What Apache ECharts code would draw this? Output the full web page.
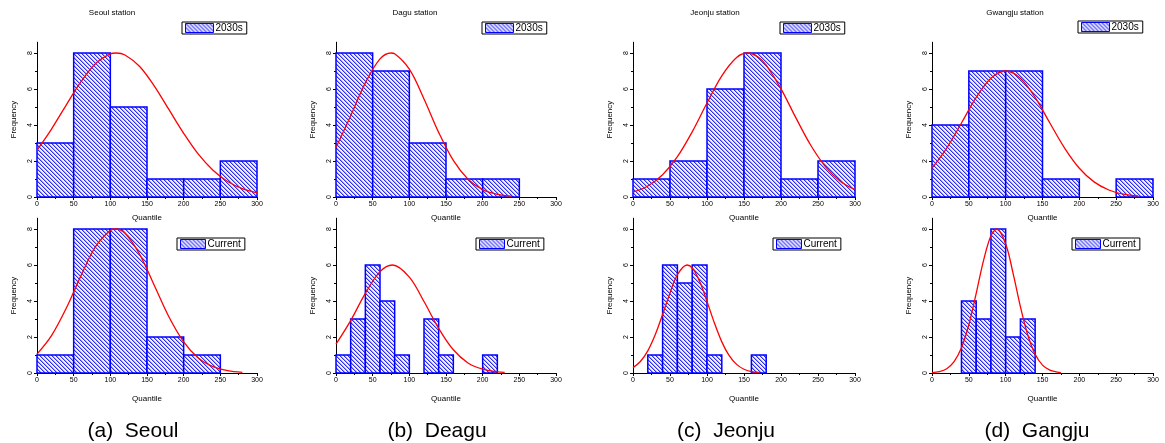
<!DOCTYPE html>
<html><head><meta charset="utf-8">
<script src="https://cdn.jsdelivr.net/npm/echarts@6/dist/echarts.min.js"></script>
<style>html,body{margin:0;padding:0;background:#fff}#c{width:1165px;height:443px}</style>
</head><body><div id="c"></div>
<script>
// ---------------- data ----------------
const stationTitles = ['Seoul station', 'Dagu station', 'Jeonju station', 'Gwangju station'];
const captions = ['(a)  Seoul', '(b)  Deagu', '(c)  Jeonju', '(d)  Gangju'];
const seriesNames = ['2030s', 'Current'];
const xTicks = [0, 50, 100, 150, 200, 250, 300];
const yTicks = [0, 2, 4, 6, 8];

const seoul2030Edges = [0, 50, 100, 150, 200, 250, 300];
const seoul2030Counts = [3, 8, 5, 1, 1, 2];
const seoulNowEdges = [0, 50, 100, 150, 200, 250];
const seoulNowCounts = [1, 8, 8, 2, 1];
const daegu2030Edges = [0, 50, 100, 150, 200, 250];
const daegu2030Counts = [8, 7, 3, 1, 1];
const daeguNowEdges = [0, 20, 40, 60, 80, 100, 120, 140, 160, 180, 200, 220];
const daeguNowCounts = [1, 3, 6, 4, 1, 0, 3, 1, 0, 0, 1];
const jeonju2030Edges = [0, 50, 100, 150, 200, 250, 300];
const jeonju2030Counts = [1, 2, 6, 8, 1, 2];
const jeonjuNowEdges = [20, 40, 60, 80, 100, 120, 140, 160, 180];
const jeonjuNowCounts = [1, 6, 5, 6, 1, 0, 0, 1];
const gwangju2030Edges = [0, 50, 100, 150, 200, 250, 300];
const gwangju2030Counts = [4, 7, 7, 1, 0, 1];
const gwangjuNowEdges = [40, 60, 80, 100, 120, 140];
const gwangjuNowCounts = [4, 3, 8, 2, 3];

// fitted normal curves
const seoul2030FitX = [0, 20, 40, 60, 80, 100, 108, 120, 140, 160, 180, 200, 220, 240, 260, 280, 300];
const seoul2030FitY = [2.60, 3.79, 5.12, 6.41, 7.42, 7.95, 8.00, 7.89, 7.25, 6.16, 4.85, 3.54, 2.38, 1.49, 0.86, 0.46, 0.23];
const seoulNowFitX = [0, 20, 40, 60, 80, 100, 107, 120, 140, 160, 180, 200, 220, 240, 260, 280];
const seoulNowFitY = [1.05, 2.09, 3.61, 5.41, 7.03, 7.93, 8.00, 7.76, 6.59, 4.86, 3.11, 1.73, 0.83, 0.35, 0.13, 0.04];
const daegu2030FitX = [0, 20, 40, 60, 75, 80, 100, 120, 140, 160, 180, 200, 220, 240];
const daegu2030FitY = [2.75, 4.51, 6.34, 7.67, 8.00, 7.96, 7.10, 5.45, 3.59, 2.03, 0.99, 0.41, 0.15, 0.05];
const daeguNowFitX = [0, 20, 40, 60, 77, 100, 120, 140, 160, 180, 200, 220, 230];
const daeguNowFitY = [1.60, 2.91, 4.42, 5.63, 6.00, 5.33, 3.97, 2.48, 1.29, 0.56, 0.21, 0.06, 0.03];
const jeonju2030FitX = [0, 20, 40, 60, 80, 100, 120, 140, 155, 170, 180, 200, 220, 240, 260, 280, 300];
const jeonju2030FitY = [0.27, 0.61, 1.24, 2.24, 3.62, 5.22, 6.73, 7.75, 8.00, 7.75, 7.32, 6.01, 4.41, 2.89, 1.69, 0.88, 0.41];
const jeonjuNowFitX = [0, 10, 20, 30, 40, 50, 60, 73, 80, 90, 100, 110, 120, 130, 140, 150, 160, 170];
const jeonjuNowFitY = [0.30, 0.64, 1.23, 2.12, 3.25, 4.45, 5.46, 6.00, 5.84, 5.10, 3.98, 2.78, 1.73, 0.96, 0.48, 0.21, 0.08, 0.03];
const gwangju2030FitX = [0, 20, 40, 60, 80, 100, 120, 140, 160, 180, 200, 220, 240, 260, 280];
const gwangju2030FitY = [1.60, 2.72, 4.11, 5.53, 6.60, 7.00, 6.60, 5.53, 4.11, 2.72, 1.60, 0.84, 0.39, 0.16, 0.06];
const gwangjuNowFitX = [0, 10, 20, 30, 40, 50, 60, 70, 80, 88, 100, 110, 120, 130, 140, 150, 160, 170, 175];
const gwangjuNowFitY = [0.02, 0.08, 0.24, 0.63, 1.40, 2.68, 4.42, 6.26, 7.62, 8.00, 7.17, 5.55, 3.69, 2.11, 1.04, 0.44, 0.16, 0.05, 0.02];

// panels: top row (2030s) then bottom row (Current)
const panels = [
  { edges: seoul2030Edges, counts: seoul2030Counts, fx: seoul2030FitX, fy: seoul2030FitY },
  { edges: daegu2030Edges, counts: daegu2030Counts, fx: daegu2030FitX, fy: daegu2030FitY },
  { edges: jeonju2030Edges, counts: jeonju2030Counts, fx: jeonju2030FitX, fy: jeonju2030FitY },
  { edges: gwangju2030Edges, counts: gwangju2030Counts, fx: gwangju2030FitX, fy: gwangju2030FitY },
  { edges: seoulNowEdges, counts: seoulNowCounts, fx: seoulNowFitX, fy: seoulNowFitY },
  { edges: daeguNowEdges, counts: daeguNowCounts, fx: daeguNowFitX, fy: daeguNowFitY },
  { edges: jeonjuNowEdges, counts: jeonjuNowCounts, fx: jeonjuNowFitX, fy: jeonjuNowFitY },
  { edges: gwangjuNowEdges, counts: gwangjuNowCounts, fx: gwangjuNowFitX, fy: gwangjuNowFitY }
];

// ---------------- layout / style ----------------
const FONT = '"Liberation Sans", Arial, sans-serif';
const plotLeft = [37, 336, 633, 932];
const plotWidth = [220, 220, 222, 221];
const rowZeroY = [197, 373];
const unitPx = 18, yMax = 8.6;
const legendPos = [[182, 22], [482, 22], [780, 22], [1078, 21], [177, 238], [476, 238], [773, 238], [1072, 238]];
const legendIconW = [28, 28, 28, 28, 25, 25, 25, 25];
const titleX = [112, 415, 715, 1015];
const captionX = [133, 437, 726, 1037];

// hatch pattern
const cv = document.createElement('canvas');
cv.width = 4; cv.height = 4;
const cx = cv.getContext('2d');
cx.fillStyle = '#f2f2ff'; cx.fillRect(0, 0, 4, 4);
for (let i = 0; i < 4; i++) {
  cx.fillStyle = '#2a2af2'; cx.fillRect(i, i, 1, 1);
  cx.fillStyle = '#a4a4ff'; cx.fillRect((i + 1) % 4, i, 1, 1);
}
const hatch = { image: cv, repeat: 'repeat' };

const grids = [], xAxes = [], yAxes = [], series = [], legends = [], graphics = [];
panels.forEach((p, i) => {
  const col = i % 4, row = Math.floor(i / 4);
  const name = seriesNames[row];
  grids.push({ left: plotLeft[col], top: rowZeroY[row] - yMax * unitPx, width: plotWidth[col], height: yMax * unitPx });
  xAxes.push({
    gridIndex: i, type: 'value', min: 0, max: 300, interval: 50,
    axisLine: { show: true, onZero: false, lineStyle: { color: '#000', width: 1 } },
    axisTick: { show: true, length: 3, lineStyle: { color: '#000' } },
    minorTick: { show: true, splitNumber: 2, length: 2, lineStyle: { color: '#000' } },
    splitLine: { show: false },
    axisLabel: { fontSize: 7, margin: 4, color: '#000', fontFamily: FONT },
    name: 'Quantile', nameLocation: 'middle', nameGap: row === 0 ? 17 : 22,
    nameTextStyle: { fontSize: 8, color: '#000', fontFamily: FONT }
  });
  yAxes.push({
    gridIndex: i, type: 'value', min: 0, max: yMax, interval: 2,
    axisLine: { show: true, onZero: false, lineStyle: { color: '#000', width: 1 } },
    axisTick: { show: true, length: 3, customValues: yTicks, lineStyle: { color: '#000' } },
    minorTick: { show: true, splitNumber: 2, length: 2, lineStyle: { color: '#000' } },
    splitLine: { show: false },
    axisLabel: { fontSize: 7, rotate: 90, margin: 3, color: '#000', fontFamily: FONT, customValues: yTicks,
      formatter: v => (yTicks.indexOf(v) >= 0 ? String(v) : '') },
    name: 'Frequency', nameLocation: 'middle', nameGap: 19,
    nameTextStyle: { fontSize: 8, color: '#000', fontFamily: FONT }
  });
  const bins = [];
  p.counts.forEach((c, k) => { if (c > 0) bins.push([p.edges[k], p.edges[k + 1], c]); });
  series.push({
    type: 'custom', name: name, xAxisIndex: i, yAxisIndex: i,
    itemStyle: { color: hatch, borderColor: '#0000ff', borderWidth: 1.5 },
    encode: { x: [0, 1], y: 2 },
    data: bins,
    renderItem: (params, api) => {
      const a = api.coord([api.value(0), 0]);
      const b = api.coord([api.value(1), api.value(2)]);
      return {
        type: 'rect',
        shape: { x: a[0], y: b[1], width: b[0] - a[0], height: a[1] - b[1] },
        style: { fill: hatch, stroke: '#0000ff', lineWidth: 1.5 }
      };
    },
    z: 2
  });
  series.push({
    type: 'line', name: 'fit' + i, xAxisIndex: i, yAxisIndex: i,
    data: p.fx.map((x, k) => [x, p.fy[k]]),
    smooth: 0.35, showSymbol: false, symbol: 'none',
    lineStyle: { color: '#ff0000', width: 1.3 }, z: 3
  });
  legends.push({
    data: [name], left: legendPos[i][0], top: legendPos[i][1],
    orient: 'horizontal', icon: 'rect', selectedMode: false,
    itemWidth: legendIconW[i], itemHeight: 9, itemGap: 0,
    padding: [1, 4, 1, 3], borderColor: '#000', borderWidth: 1,
    itemStyle: { borderColor: '#0000ff', borderWidth: 1 },
    textStyle: { fontSize: 10, color: '#000', fontFamily: FONT, padding: [0, 0, 0, -3] }
  });
});

stationTitles.forEach((t, c) => {
  graphics.push({ type: 'text', x: titleX[c], y: 13,
    style: { text: t, fontSize: 8, fill: '#000', fontFamily: FONT, align: 'center', verticalAlign: 'middle' } });
});
captions.forEach((t, c) => {
  graphics.push({ type: 'text', x: captionX[c], y: 431,
    style: { text: t, fontSize: 21, fill: '#000', fontFamily: FONT, align: 'center', verticalAlign: 'middle' } });
});

const chart = echarts.init(document.getElementById('c'), null, { renderer: 'canvas' });
chart.setOption({
  backgroundColor: '#fff',
  animation: false,
  grid: grids, xAxis: xAxes, yAxis: yAxes, series: series, legend: legends,
  graphic: graphics
});
</script>
</body></html>
